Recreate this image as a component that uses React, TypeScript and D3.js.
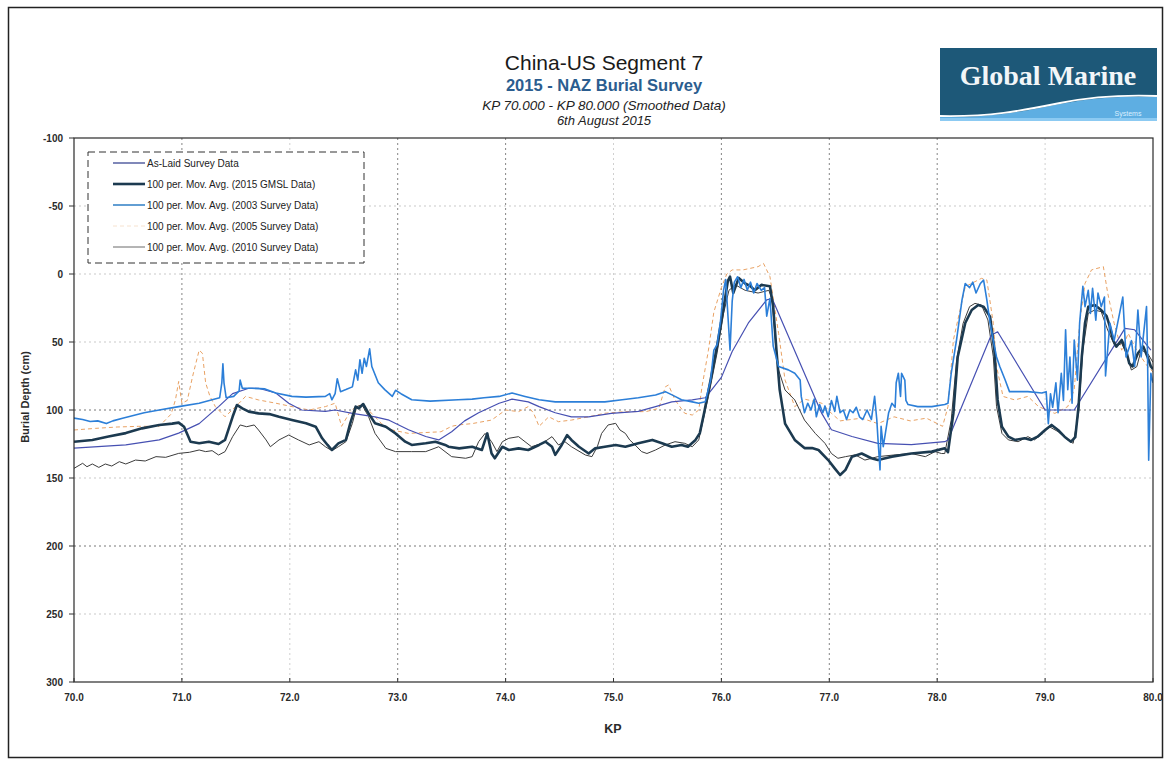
import React from "react";
import * as d3 from "d3";

type P = [number, number];

const kpTicks = [70, 71, 72, 73, 74, 75, 76, 77, 78, 79, 80];
const depthTicks = [-100, -50, 0, 50, 100, 150, 200, 250, 300];
const gridKp = [71, 72, 73, 74, 75, 76, 77, 78, 79];
const gridDepth = [-50, 0, 50, 100, 150, 200, 250];
const strongKpGrid = [71, 73, 74, 76, 77, 78];
const strongDepthGrid = [100, 200];

const titleMain = "China-US Segment 7";
const titleSub = "2015 - NAZ Burial Survey";
const titleRange = "KP 70.000 - KP 80.000 (Smoothed Data)";
const titleDate = "6th August 2015";
const yAxisTitle = "Burial Depth (cm)";
const xAxisTitle = "KP";

const asLaid: P[] = [
  [70.0, 128], [70.48, 125.7], [70.79, 122], [70.97, 117], [71.16, 110], [71.34, 97.5], [71.47, 88],
  [71.62, 84], [71.71, 84], [71.87, 87.5], [71.99, 95], [72.11, 100], [72.33, 101], [72.42, 100],
  [72.58, 102.5], [72.79, 105], [72.92, 107.5], [73.1, 114.5], [73.26, 119.5], [73.38, 122],
  [73.5, 116], [73.62, 108], [73.75, 102], [73.94, 95], [74.06, 92], [74.21, 94], [74.31, 97.5],
  [74.46, 102], [74.61, 105], [74.77, 105], [74.98, 102.5], [75.23, 101], [75.39, 97.5], [75.54, 94],
  [75.73, 92.5], [75.85, 91], [75.94, 82], [76.0, 76], [76.1, 57], [76.25, 36], [76.42, 19], [76.47, 18],
  [76.93, 102.5], [77.02, 114.5], [77.21, 119.5], [77.45, 124.5], [77.76, 125.5], [78.07, 123.3],
  [78.1, 122], [78.5, 45], [78.56, 42.5], [79.0, 100], [79.27, 100], [79.74, 40], [79.83, 41], [79.98, 56]
];

const gmsl2015: P[] = [
  [70.0, 123.3], [70.17, 122], [70.32, 119.5], [70.48, 117], [70.63, 113.5], [70.79, 111], [70.91, 110],
  [70.97, 109.3], [71.02, 112.3], [71.08, 123.3], [71.16, 124.5], [71.25, 123.3], [71.34, 125], [71.4, 122],
  [71.47, 105], [71.51, 96.3], [71.56, 98.8], [71.62, 101.2], [71.71, 102.5], [71.81, 103], [71.9, 105],
  [72.02, 107.4], [72.15, 109.8], [72.24, 112.3], [72.3, 120.8], [72.35, 125.7], [72.39, 129.4],
  [72.45, 124.5], [72.52, 122], [72.56, 109.8], [72.61, 97.5], [72.64, 98.8], [72.68, 95.6], [72.73, 102.5],
  [72.79, 109.8], [72.89, 112.3], [72.98, 117.2], [73.07, 123.3], [73.13, 125.7], [73.26, 124.5],
  [73.35, 123.3], [73.44, 125.7], [73.47, 127], [73.57, 128.2], [73.69, 127], [73.78, 129.4], [73.83, 117.2],
  [73.87, 132], [73.9, 135.5], [73.97, 127], [74.03, 129.4], [74.12, 128.2], [74.21, 129.4], [74.31, 125.7],
  [74.37, 123.3], [74.43, 127], [74.46, 133], [74.52, 125.7], [74.57, 118.4], [74.61, 122], [74.68, 127],
  [74.77, 132], [74.83, 128.2], [74.92, 127], [75.02, 125.7], [75.11, 127], [75.23, 124.5], [75.36, 122],
  [75.45, 124.5], [75.54, 127], [75.63, 125.7], [75.69, 127], [75.76, 122], [75.8, 117], [75.84, 102],
  [75.9, 78], [75.96, 53], [76.02, 25], [76.06, 5], [76.08, 2], [76.11, 14], [76.16, 3], [76.22, 7],
  [76.27, 9], [76.31, 12], [76.37, 8], [76.45, 9], [76.48, 24], [76.51, 56], [76.54, 85], [76.59, 110],
  [76.68, 122], [76.77, 128], [76.84, 128], [76.9, 129.4], [76.99, 136.8], [77.05, 142.9], [77.1, 147.8],
  [77.15, 144], [77.21, 134.3], [77.3, 132], [77.39, 135.5], [77.45, 136.8], [77.58, 134.3], [77.76, 132],
  [77.95, 130.6], [78.07, 128.2], [78.1, 131], [78.15, 102.5], [78.19, 61], [78.26, 36], [78.32, 26.5],
  [78.38, 22.8], [78.43, 24], [78.49, 31.4], [78.53, 56], [78.56, 92.6], [78.6, 112.3], [78.66, 119.6],
  [78.72, 122], [78.81, 120.8], [78.87, 122], [78.93, 119.6], [79.0, 114.7], [79.06, 111], [79.12, 114.7],
  [79.18, 119.6], [79.24, 123.3], [79.28, 120], [79.31, 97.5], [79.34, 61], [79.37, 36], [79.4, 24],
  [79.46, 22.8], [79.52, 26.5], [79.57, 31], [79.6, 38.7], [79.63, 48.5], [79.66, 53.4], [79.71, 48.5],
  [79.75, 56], [79.78, 65.7], [79.81, 68], [79.86, 58.3], [79.91, 53.4], [79.95, 61], [79.98, 68], [80.0, 70]
];

const survey2003: P[] = [
  [70.0, 106], [70.08, 107], [70.15, 108.5], [70.22, 108], [70.3, 110], [70.36, 108], [70.45, 106],
  [70.55, 104], [70.65, 102], [70.79, 100], [70.97, 97.5], [71.16, 95], [71.28, 92.5], [71.35, 91],
  [71.37, 80], [71.38, 66], [71.39, 80], [71.41, 91], [71.48, 90], [71.53, 86], [71.54, 78], [71.56, 84],
  [71.65, 84], [71.77, 84.5], [71.87, 87.5], [72.02, 90], [72.15, 90.5], [72.33, 90], [72.37, 88],
  [72.39, 92.5], [72.42, 88], [72.44, 77], [72.47, 86.5], [72.52, 85], [72.58, 83], [72.61, 70.5],
  [72.63, 78], [72.65, 63], [72.67, 73], [72.69, 62], [72.71, 68], [72.74, 55], [72.76, 68], [72.82, 80],
  [72.88, 85], [72.95, 90], [72.98, 85.5], [73.03, 88], [73.13, 92.5], [73.3, 93.5], [73.56, 92.5],
  [73.69, 92], [73.8, 91], [73.94, 90], [74.06, 87.5], [74.18, 90], [74.31, 92.5], [74.46, 94],
  [74.77, 94], [74.92, 94], [75.08, 92.5], [75.23, 91], [75.39, 89], [75.48, 86.5], [75.57, 90],
  [75.63, 92.5], [75.73, 94], [75.79, 95], [75.85, 94], [75.9, 78], [75.93, 56], [75.96, 52], [75.99, 36],
  [76.02, 12], [76.04, 4], [76.06, 30], [76.08, 56], [76.1, 20], [76.12, 6], [76.15, 2], [76.18, 10],
  [76.21, 4], [76.24, 12], [76.27, 6], [76.3, 14], [76.33, 7], [76.37, 12], [76.4, 10], [76.42, 31],
  [76.45, 18], [76.48, 53], [76.53, 68], [76.62, 70.5], [76.68, 73], [76.73, 78], [76.74, 90], [76.77, 102],
  [76.8, 95], [76.83, 100], [76.86, 92], [76.88, 105], [76.91, 96], [76.94, 102], [76.96, 97], [76.99, 105],
  [77.02, 93], [77.05, 101], [77.07, 90], [77.1, 102], [77.13, 100], [77.16, 107], [77.19, 100], [77.22, 102],
  [77.25, 98], [77.28, 105], [77.31, 107], [77.35, 100], [77.39, 107], [77.42, 90], [77.44, 107],
  [77.45, 120], [77.47, 144], [77.48, 112], [77.5, 127], [77.52, 117], [77.55, 102], [77.58, 95],
  [77.61, 98], [77.62, 80], [77.64, 73], [77.66, 90], [77.67, 73], [77.7, 78], [77.71, 93], [77.73, 96],
  [77.82, 97.5], [77.95, 97.5], [78.07, 96], [78.1, 95], [78.13, 73], [78.18, 48], [78.23, 19], [78.26, 7],
  [78.3, 10], [78.33, 6], [78.36, 14], [78.4, 7], [78.43, 4.5], [78.46, 19], [78.49, 36], [78.52, 49],
  [78.55, 61], [78.58, 68], [78.63, 78], [78.67, 86.5], [78.84, 86.5], [78.97, 87.5], [79.01, 86.5],
  [79.03, 110], [79.05, 88], [79.07, 98], [79.1, 80], [79.12, 102], [79.15, 73], [79.17, 93], [79.19, 41],
  [79.21, 85], [79.23, 61], [79.25, 95], [79.27, 48.5], [79.3, 78], [79.32, 36], [79.35, 9], [79.37, 24],
  [79.4, 12], [79.42, 29], [79.44, 10.5], [79.47, 34], [79.49, 14], [79.52, 24], [79.55, 17], [79.56, 75],
  [79.6, 36], [79.64, 49], [79.72, 17], [79.75, 61], [79.8, 49], [79.83, 68], [79.86, 26.5], [79.89, 61],
  [79.94, 24], [79.95, 63], [79.96, 137], [79.98, 73], [80.0, 80]
];

const survey2005: P[] = [
  [70.0, 114.7], [70.2, 113.5], [70.4, 112.5], [70.6, 112], [70.79, 112], [70.9, 103], [70.94, 92.6],
  [70.97, 79], [71.0, 95], [71.05, 93], [71.1, 75], [71.16, 56], [71.19, 58.3], [71.22, 80], [71.26, 90],
  [71.31, 97.5], [71.4, 105], [71.53, 95], [71.59, 90], [71.71, 92.6], [71.87, 95], [72.02, 97.5],
  [72.18, 100], [72.33, 97.5], [72.42, 95], [72.48, 112], [72.55, 102.5], [72.61, 97.5], [72.67, 96.3],
  [72.76, 102.5], [72.85, 110], [72.95, 114.7], [73.1, 117.2], [73.4, 116], [73.5, 112], [73.56, 111],
  [73.69, 110], [73.87, 107.4], [74.0, 100], [74.12, 101.2], [74.21, 97.5], [74.26, 102.4], [74.31, 112],
  [74.4, 105], [74.49, 108.6], [74.61, 107.4], [74.77, 105], [74.92, 102.4], [75.11, 101.2], [75.3, 101.2],
  [75.42, 98.8], [75.48, 83], [75.51, 81.6], [75.57, 92.6], [75.66, 102.4], [75.73, 103.7], [75.79, 100],
  [75.82, 83], [75.88, 56], [75.93, 28], [76.0, 10], [76.05, 0], [76.1, -3], [76.2, -3], [76.34, -5.4],
  [76.39, -7.8], [76.45, 2], [76.53, 43.6], [76.59, 78], [76.68, 97.5], [76.77, 92], [76.93, 95],
  [77.02, 102.5], [77.1, 108], [77.3, 106], [77.45, 110], [77.6, 105], [77.75, 108], [77.9, 106],
  [78.05, 112], [78.1, 97.5], [78.15, 48.5], [78.26, 9.3], [78.41, 3.2], [78.46, 4.4], [78.52, 36.3],
  [78.55, 68], [78.61, 90], [78.72, 92.6], [78.84, 90], [78.94, 97.5], [79.09, 102.5], [79.21, 97.5],
  [79.27, 85], [79.32, 36.3], [79.37, 6.9], [79.43, -3], [79.54, -5.4], [79.58, 14], [79.64, 36.3],
  [79.71, 56], [79.77, 43.6], [79.83, 53.4], [79.89, 61], [79.95, 68], [80.0, 72]
];

const survey2010: P[] = [
  [70.0, 142.9], [70.08, 139.2], [70.12, 141.7], [70.17, 139.7], [70.23, 142.2], [70.29, 139.7],
  [70.35, 141.2], [70.42, 138], [70.48, 139.7], [70.57, 136.8], [70.66, 137.5], [70.76, 134.3],
  [70.85, 134.8], [70.97, 131.9], [71.07, 131.1], [71.16, 129.4], [71.22, 130.6], [71.28, 129.9],
  [71.34, 133.1], [71.4, 130.6], [71.47, 119.6], [71.54, 111], [71.6, 112.3], [71.67, 111], [71.71, 114.7],
  [71.78, 122], [71.82, 127], [71.9, 122], [71.99, 118.4], [72.08, 122], [72.18, 125.7], [72.27, 123.3],
  [72.33, 127], [72.39, 129.9], [72.45, 127], [72.52, 123.3], [72.58, 109.8], [72.62, 97.5], [72.67, 96.3],
  [72.73, 104.9], [72.79, 117.2], [72.89, 128.2], [72.98, 130.6], [73.13, 130.6], [73.26, 130.6],
  [73.38, 127], [73.5, 134.3], [73.63, 135.5], [73.69, 134.3], [73.75, 123.3], [73.81, 117.2],
  [73.87, 123.3], [73.92, 130.6], [73.97, 123.3], [74.03, 120.8], [74.12, 119.6], [74.18, 123.3],
  [74.24, 127], [74.34, 124.5], [74.43, 119.6], [74.49, 125.7], [74.55, 123.3], [74.61, 127],
  [74.74, 133.1], [74.8, 134.3], [74.85, 127], [74.89, 117.2], [74.95, 111], [75.02, 109.8],
  [75.06, 114.7], [75.11, 117.2], [75.15, 122], [75.2, 125.7], [75.26, 130.6], [75.31, 132],
  [75.39, 129.4], [75.48, 125.7], [75.57, 123.3], [75.66, 124.5], [75.73, 127], [75.79, 122],
  [75.88, 90], [75.96, 58], [76.02, 29], [76.07, 12], [76.13, 8], [76.22, 12], [76.34, 14], [76.44, 12],
  [76.47, 19], [76.5, 48.5], [76.53, 70.6], [76.59, 85.3], [76.68, 92.6], [76.77, 107.4], [76.87, 117.2],
  [76.96, 124.5], [77.02, 132], [77.08, 135.5], [77.15, 134.3], [77.24, 133], [77.33, 136.8],
  [77.45, 134.3], [77.61, 133], [77.76, 132], [77.89, 134.3], [77.98, 130.6], [78.04, 132], [78.07, 132],
  [78.13, 107.4], [78.18, 63.2], [78.24, 36.3], [78.3, 24], [78.35, 21.6], [78.41, 22.8], [78.47, 33.8],
  [78.52, 60.8], [78.55, 97.5], [78.6, 117.2], [78.66, 122], [78.75, 123.3], [78.84, 119.6], [78.9, 122],
  [78.98, 117.2], [79.04, 112.3], [79.12, 115.9], [79.21, 122], [79.26, 124.5], [79.31, 102.5],
  [79.35, 55.9], [79.4, 28.9], [79.46, 26.5], [79.52, 27.7], [79.58, 41.2], [79.65, 53.4], [79.71, 51],
  [79.75, 58.3], [79.8, 70.6], [79.85, 68.1], [79.89, 55.9], [79.95, 58.3], [80.0, 65]
];

const legendLabels = [
  "As-Laid Survey Data",
  "100 per. Mov. Avg. (2015 GMSL Data)",
  "100 per. Mov. Avg. (2003 Survey Data)",
  "100 per. Mov. Avg. (2005 Survey Data)",
  "100 per. Mov. Avg. (2010 Survey Data)"
];

const FONT = "'Liberation Sans', Arial, Helvetica, sans-serif";

export default function App() {
  const W = 1168;
  const H = 764;
  const left = 74, right = 1153, top = 138, bottom = 682;
  const x = d3.scaleLinear().domain([70, 80]).range([left, right]);
  const y = d3.scaleLinear().domain([-100, 300]).range([top, bottom]);
  const line = d3.line<P>().x((d) => x(d[0])).y((d) => y(d[1]));

  // legend order: as-laid, 2015, 2003, 2005, 2010
  const styles = [
    { data: asLaid, color: "#4650b2", width: 1.2, dash: undefined as string | undefined, legendColor: "#2c3a8a" },
    { data: gmsl2015, color: "#1c3a50", width: 2.6, dash: undefined, legendColor: "#1c3a50" },
    { data: survey2003, color: "#2c7fd8", width: 1.6, dash: undefined, legendColor: "#3b86c8" },
    { data: survey2005, color: "#e9a264", width: 1, dash: "4,3", legendColor: "#f6e2cf" },
    { data: survey2010, color: "#3c3c3c", width: 1, dash: undefined, legendColor: "#6a6a6a" }
  ];
  const drawOrder = [3, 4, 0, 1, 2];

  return (
    <svg width={W} height={H} style={{ position: "absolute", left: 0, top: 0, background: "#fff" }} fontFamily={FONT}>
      <rect x={0} y={0} width={W} height={H} fill="#ffffff" />
      <rect x={8.5} y={7.5} width={1154} height={750} fill="none" stroke="#222" strokeWidth={1.5} />

      {/* Titles */}
      <g textAnchor="middle">
        <text x={604} y={70} fontSize={21} fill="#1a1a1a">{titleMain}</text>
        <text x={604} y={91} fontSize={16.5} fontWeight="bold" fill="#2b5d8f">{titleSub}</text>
        <text x={604} y={109.5} fontSize={13.5} fontStyle="italic" fill="#222">{titleRange}</text>
        <text x={604} y={124.5} fontSize={13} fontStyle="italic" fill="#222">{titleDate}</text>
      </g>

      {/* Logo */}
      <g>
        <rect x={940} y={48} width={217} height={73} fill="#1d5878" />
        <path d="M940,121 L940,117 C990,118 1020,112 1060,104 C1095,97 1130,96 1157,97 L1157,121 Z" fill="#5eaee2" />
        <path d="M940,116 C990,117 1020,111 1060,103 C1095,96 1130,95 1157,96" fill="none" stroke="#ffffff" strokeWidth={1.8} />
        <rect x={940} y={118} width={217} height={3} fill="#8ccaf2" />
        <text x={1048} y={85} textAnchor="middle" fontFamily="'Liberation Serif', 'Times New Roman', serif" fontSize={28} fontWeight="bold" fill="#f2f6f8">Global Marine</text>
        <text x={1128} y={116} textAnchor="middle" fontSize={7} fill="#dcefff">Systems</text>
      </g>

      {/* Gridlines */}
      <g>
        {gridDepth.map((d) => (
          <line key={"gy" + d} x1={left} x2={right} y1={y(d)} y2={y(d)}
            stroke={strongDepthGrid.includes(d) ? "#555" : "#bbb"} strokeWidth={0.8} strokeDasharray="2,3" />
        ))}
        {gridKp.map((k) => (
          <line key={"gx" + k} x1={x(k)} x2={x(k)} y1={top} y2={bottom}
            stroke={strongKpGrid.includes(k) ? "#666" : "#c4c4c4"} strokeWidth={0.8} strokeDasharray="2,3" />
        ))}
      </g>

      {/* Series */}
      <defs>
        <clipPath id="plotClip">
          <rect x={left} y={top} width={right - left} height={bottom - top} />
        </clipPath>
      </defs>
      <g clipPath="url(#plotClip)" fill="none" strokeLinejoin="round">
        {drawOrder.map((i) => {
          const s = styles[i];
          return (
            <path key={"s" + i} d={line(s.data) || ""} stroke={s.color} strokeWidth={s.width}
              strokeDasharray={s.dash} />
          );
        })}
      </g>

      {/* Plot border */}
      <rect x={left} y={top} width={right - left} height={bottom - top} fill="none" stroke="#2a2a2a" strokeWidth={1.2} />

      {/* Axes ticks and labels */}
      <g fontSize={10} fontWeight="bold" fill="#2a2a2a">
        {depthTicks.map((d) => (
          <g key={"yt" + d}>
            <line x1={left - 5} x2={left} y1={y(d)} y2={y(d)} stroke="#333" strokeWidth={1} />
            <text x={63} y={y(d) + 3.5} textAnchor="end">{d}</text>
          </g>
        ))}
        {kpTicks.map((k) => (
          <g key={"xt" + k}>
            <line x1={x(k)} x2={x(k)} y1={bottom} y2={bottom - 4} stroke="#333" strokeWidth={1} />
            <text x={x(k)} y={701} textAnchor="middle">{k.toFixed(1)}</text>
          </g>
        ))}
      </g>
      <text transform="translate(29,397) rotate(-90)" textAnchor="middle" fontSize={11} fontWeight="bold" fill="#2a2a2a">{yAxisTitle}</text>
      <text x={613} y={733} textAnchor="middle" fontSize={12.5} fontWeight="bold" fill="#2a2a2a">{xAxisTitle}</text>

      {/* Legend */}
      <g>
        <rect x={88} y={152} width={276} height={111} fill="#fff" stroke="#333" strokeWidth={1} strokeDasharray="7,4" />
        {legendLabels.map((lab, i) => {
          const s = styles[i];
          const ly = 163 + i * 21;
          return (
            <g key={"lg" + i}>
              <line x1={113} x2={145} y1={ly} y2={ly} stroke={s.legendColor} strokeWidth={s.width}
                strokeDasharray={s.dash} />
              <text x={147} y={ly + 3.5} fontSize={10} fill="#222">{lab}</text>
            </g>
          );
        })}
      </g>
    </svg>
  );
}
